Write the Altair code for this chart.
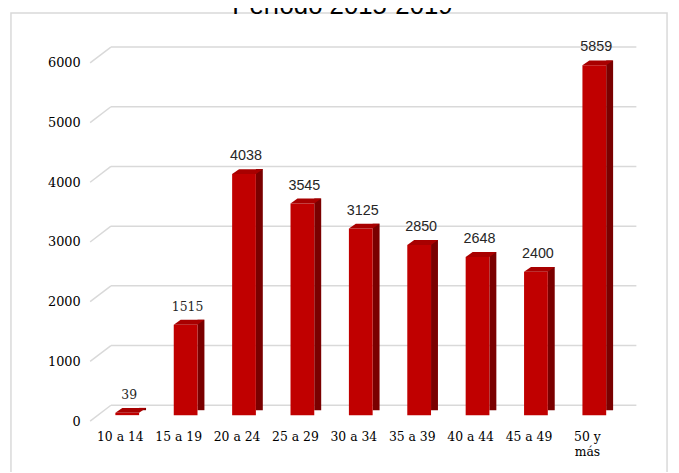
import altair as alt
import pandas as pd

categories = ["10 a 14", "15 a 19", "20 a 24", "25 a 29", "30 a 34",
              "35 a 39", "40 a 44", "45 a 49", "50 y más"]
values = [39, 1515, 4038, 3545, 3125, 2850, 2648, 2400, 5859]
serif_label = [True, True, False, False, False, False, False, False, False]
y_ticks = [0, 1000, 2000, 3000, 4000, 5000, 6000]
title_text = "Período 2015-2019"

df = pd.DataFrame({"cat": categories, "val": values, "serif": serif_label})
grid_df = pd.DataFrame({"val": y_ticks})
one = pd.DataFrame({"t": [title_text]})

W, H = 531, 362
FRONT = "#c00000"
SIDE = "#7a0000"
TOP = "#a80000"
GRID = "#d9d9d9"

xscale = alt.Scale(domain=categories, paddingInner=0, paddingOuter=0)
yscale = alt.Scale(domain=[0, 6000], nice=False, zero=True)

x_axis = alt.Axis(title=None, labelAngle=0, domain=False, ticks=False, grid=False,
                  labelPadding=10, labelFont="DejaVu Serif",
                  labelFontSize=12.5, labelColor="#000",
                  labelLineHeight=15,
                  labelExpr="datum.label == '50 y más' ? ['50 y', 'más'] : datum.label")
y_axis = alt.Axis(values=y_ticks, format="d", title=None, grid=False, domain=False,
                  ticks=False, labelPadding=11, labelFont="DejaVu Serif",
                  labelFontSize=13, labelColor="#000")

x_enc = alt.X("cat:N", sort=categories, scale=xscale, axis=x_axis)
y_enc = alt.Y("val:Q", scale=yscale, axis=y_axis)

frame = alt.Chart(one).mark_rect(filled=False, stroke=GRID, strokeWidth=1.5).encode(
    x=alt.value(-81), x2=alt.value(582), y=alt.value(-50.3), y2=alt.value(430))

title = alt.Chart(one).mark_text(font="Liberation Sans", fontSize=26, color="#000",
                                 align="center", baseline="alphabetic").encode(
    x=alt.value(254), y=alt.value(-49.5), text="t:N")

grid_diag = alt.Chart(grid_df).mark_rule(color=GRID, strokeWidth=1.5, y2Offset=-16).encode(
    x=alt.value(-1), x2=alt.value(20),
    y=y_enc, y2=alt.Y2("val"))

grid_h = alt.Chart(grid_df).mark_rule(color=GRID, strokeWidth=1.5, yOffset=-16).encode(
    x=alt.value(20), x2=alt.value(551),
    y=y_enc)

side = alt.Chart(df).mark_bar(color=SIDE, size=7, xOffset=22.5, yOffset=-11,
                              y2Offset=-8.5).encode(x=x_enc, y=y_enc)

front = alt.Chart(df).mark_bar(color=FRONT, size=24, xOffset=7, yOffset=-6,
                               y2Offset=-6).encode(x=x_enc, y=y_enc)

top = alt.Chart(df).mark_point(
    shape="M -1 0.161 L -0.548 -0.161 L 1 -0.161 L 0.548 0.161 Z",
    filled=True, color=TOP, opacity=1, size=961, xOffset=10.5, yOffset=-8.5,
    strokeWidth=0).encode(x=x_enc, y=y_enc)

lab_serif = alt.Chart(df).transform_filter("datum.serif").mark_text(
    font="DejaVu Serif", fontSize=12.5, color="#262626", baseline="alphabetic",
    dx=9, dy=-20).encode(x=x_enc, y=y_enc, text="val:Q")

lab_sans = alt.Chart(df).transform_filter("!datum.serif").mark_text(
    font="Liberation Sans", fontSize=14.5, color="#262626", baseline="alphabetic",
    dx=9, dy=-20).encode(x=x_enc, y=y_enc, text="val:Q")

chart = alt.layer(frame, title, grid_diag, grid_h, side, front, top, lab_serif, lab_sans).properties(
    width=W, height=H,
    padding={"left": 84, "top": 53, "right": 55, "bottom": 49},
    autosize=alt.AutoSizeParams(type="none"),
).configure_view(stroke=None)

chart.save("out.html", embed_options={"renderer": "svg", "actions": False})
